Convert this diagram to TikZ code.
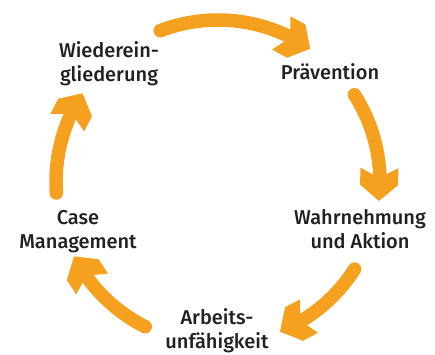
\documentclass[tikz,border=0pt]{standalone}
\usepackage{fontspec}
\setmainfont{Fira Sans}[UprightFont={* Medium}]
\usetikzlibrary{calc}
\definecolor{arroworange}{RGB}{245,160,30}
\definecolor{labelgray}{RGB}{35,31,32}
\tikzset{
  shaft/.style={draw=arroworange, line width=13.5pt, line cap=round},
  headshape/.style={fill=arroworange},
  cyclabel/.style={text=labelgray, font=\fontsize{20}{24}\selectfont, align=center, inner sep=0pt}
}
\newcommand\cyclearrow[3]{%
  \coordinate (#3s) at ($(C)+(#1:162)$);
  \coordinate (#3t) at ($(C)+(#2:162)$);
  \draw[shaft] (#3s) arc[start angle=#1, end angle=#2+8, radius=162];
  \fill[headshape, shift={(#3t)}, rotate=#2+5.85-90]
    (0,0) -- (-16,19) -- (-33,19) -- (-23,0) -- (-33,-19) -- (-16,-19) -- cycle;
}
\begin{document}
\begin{tikzpicture}[x=1pt,y=1pt]
\fill[white] (0,0) rectangle (435,354);
\useasboundingbox (0,0) rectangle (435,354);
\coordinate (C) at (218,172);
\cyclearrow{110.9}{55.3}{a}
\cyclearrow{32.6}{-6.7}{b}
\cyclearrow{-32.5}{-67.5}{c}
\cyclearrow{-116.7}{-152.7}{d}
\cyclearrow{183.9}{146.8}{e}
\node[cyclabel] (wied) at (109,290.2) {Wiederein-\\gliederung};
\node[cyclabel, anchor=base] (prae) at (330,274.5) {Prävention};
\node[cyclabel] (wahr) at (360,124.7) {Wahrnehmung\\und Aktion};
\node[cyclabel] (arbe) at (217,23) {Arbeits-\\unfähigkeit};
\node[cyclabel] (case) at (78,122.6) {Case\\Management};
\end{tikzpicture}
\end{document}
